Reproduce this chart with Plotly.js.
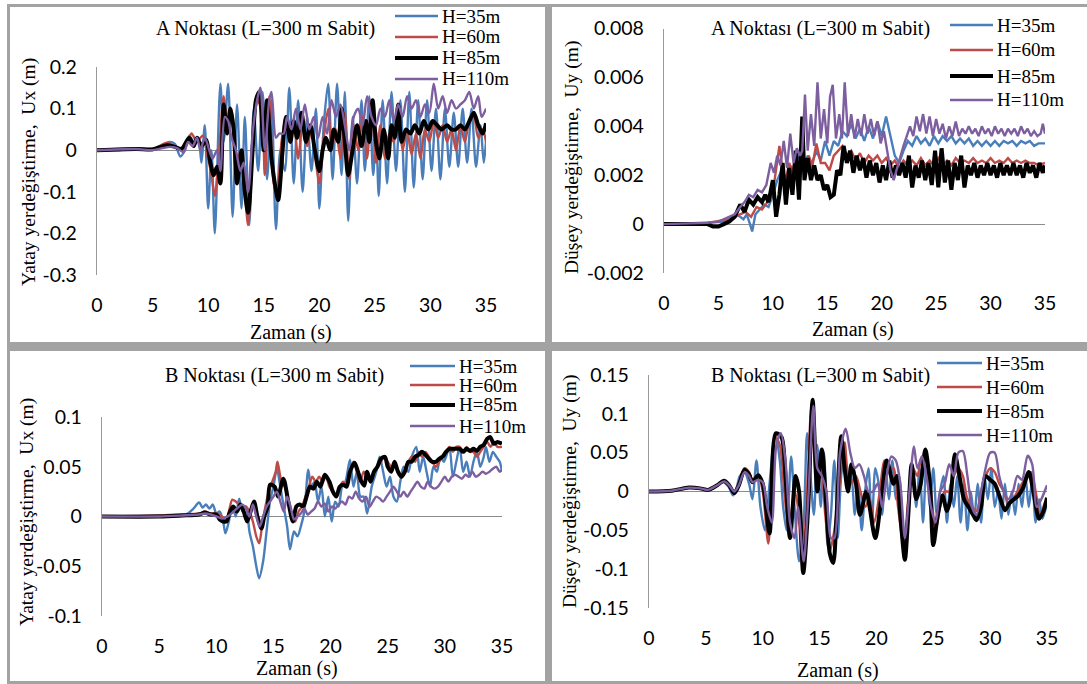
<!DOCTYPE html>
<html>
<head>
<meta charset="utf-8">
<script src="https://cdn.plot.ly/plotly-3.0.1.min.js"></script>
<style>html,body{margin:0;padding:0;background:#fff;}#chart{width:1087px;height:684px;}</style>
</head>
<body>
<div id="chart"></div>
<script>
// ---------------- DATA ----------------
const seriesNames = ["H=35m", "H=60m", "H=85m", "H=110m"];
const xTickVals = [0, 5, 10, 15, 20, 25, 30, 35];
const xTickText = ["0", "5", "10", "15", "20", "25", "30", "35"];

// Panel 1: A point, horizontal Ux
const yTicks1 = [0.2, 0.1, 0, -0.1, -0.2, -0.3];
const yTickText1 = ["0.2", "0.1", "0", "-0.1", "-0.2", "-0.3"];
const t1_35 = [0,2,3.5,4.5,5.5,6.1,6.5,7.0,7.5,7.9,8.3,8.7,9.1,9.4,9.7,10.0,10.3,10.6,11.1,11.4,11.8,12.2,12.6,13.0,13.3,13.7,14.1,14.5,14.9,15.3,15.7,16.1,16.5,16.9,17.3,17.7,18.1,18.5,18.9,19.3,19.7,20.0,20.4,20.8,21.2,21.6,22.0,22.3,22.6,23.0,23.4,23.8,24.1,24.5,24.85,25.1,25.35,25.7,26.1,26.5,26.9,27.3,27.7,28.1,28.5,28.9,29.3,29.7,30.1,30.5,30.9,31.3,31.7,32.1,32.5,32.9,33.3,33.7,34.1,34.5,34.8,35.0];
const v1_35 = [0,0,0.005,0.003,0.005,0.015,0.02,0.015,-0.015,0,0.035,0.02,0.03,-0.03,0.06,-0.14,0,-0.2,0.16,0.02,0.16,-0.16,0.11,-0.14,0.08,-0.18,0.10,-0.05,0.14,-0.07,0.12,-0.19,0.0,-0.05,0.15,-0.08,0.12,-0.1,0.08,-0.05,0.1,-0.14,0.06,0.16,-0.07,0.16,-0.06,0.14,-0.17,0.08,-0.08,0.12,-0.05,0.13,-0.06,0.05,-0.11,0.12,-0.08,0.14,-0.05,0.12,-0.1,0.14,-0.09,0.12,-0.07,0.12,-0.05,0.1,-0.07,0.1,-0.04,0.09,-0.04,0.1,-0.03,0.1,-0.04,0.06,-0.03,0.02];
const t1_60 = [0,3.5,5,6.3,6.8,7.5,8.0,8.5,9.0,9.5,10.0,10.3,10.6,11.0,11.4,11.8,12.1,12.5,12.9,13.3,13.6,14.0,14.4,14.8,15.1,15.5,15.9,16.2,16.6,17.0,17.3,17.7,18.1,18.5,18.9,19.3,19.7,20.0,20.4,20.8,21.1,21.5,21.9,22.3,22.7,23.1,23.5,23.9,24.3,24.7,25.1,25.5,25.9,26.3,26.7,27.1,27.5,27.9,28.3,28.7,29.1,29.5,29.9,30.3,30.7,31.1,31.5,31.9,32.3,32.7,33.1,33.5,33.9,34.3,34.7,35];
const v1_60 = [0,0.004,0.002,0.018,0.012,0.005,0.01,0.04,0.02,0.035,-0.02,-0.06,-0.11,0.0,0.13,0.05,0.1,-0.05,0.0,-0.1,-0.18,0.0,0.12,0.1,-0.06,0.13,-0.08,-0.1,0.02,0.08,0.02,0.07,-0.02,0.06,0.01,0.05,-0.03,-0.08,0.03,0.1,0.0,0.05,-0.02,0.09,-0.07,0.06,0.0,0.08,-0.02,0.12,-0.03,0.06,-0.02,0.04,0.02,0.08,0.0,0.05,-0.01,0.04,-0.02,0.05,0.02,0.07,0.03,0.06,0.02,0.05,0.0,0.06,0.02,0.07,0.08,0.03,0.05,0.02];
const t1_85 = [0,3.5,5,6.3,7,7.6,8.3,8.7,9.0,9.4,9.8,10.2,10.5,10.8,11.1,11.4,11.7,12.0,12.3,12.6,13.0,13.3,13.6,14.0,14.3,14.6,15.0,15.3,15.7,16.0,16.3,16.7,17.0,17.4,17.7,18.0,18.4,18.8,19.2,19.6,20.0,20.3,20.6,21.0,21.3,21.7,22.0,22.3,22.6,23.0,23.4,23.8,24.2,24.5,24.8,25.1,25.4,25.8,26.2,26.5,26.8,27.1,27.4,27.8,28.2,28.6,29.0,29.4,29.8,30.2,30.6,31.0,31.5,31.9,32.3,32.7,33.1,33.5,33.9,34.3,34.7,35.0];
const v1_85 = [0,0.003,0.002,0.012,0.008,0.003,0.03,0.01,0.03,0.01,0.025,-0.03,-0.06,-0.04,-0.08,0.11,0.04,0.1,0.05,-0.08,0.0,-0.1,-0.15,0.0,0.12,0.14,0.0,0.12,-0.02,-0.08,-0.12,0.0,0.08,0.02,0.07,0.03,0.09,0.02,0.06,0.0,-0.05,0.0,0.03,0.0,0.05,0.02,0.1,0.02,-0.06,0.0,0.06,0.01,0.07,0.02,0.12,0.02,-0.02,0.05,-0.02,0.06,0.03,0.11,0.02,0.05,0.04,0.06,0.04,0.07,0.05,0.07,0.06,0.05,0.06,0.05,0.05,0.06,0.05,0.07,0.09,0.06,0.04,0.065];
const t1_110 = [0,3.5,5,6.5,7.2,7.8,8.2,8.6,9.0,9.3,9.7,10.1,10.4,10.8,11.1,11.5,11.8,12.1,12.5,12.9,13.2,13.6,14.0,14.4,14.7,15.1,15.5,15.7,16.1,16.4,16.8,17.1,17.5,17.9,18.3,18.7,19.1,19.5,19.9,20.3,20.7,21.1,21.5,21.9,22.3,22.7,23.1,23.5,23.9,24.3,24.7,25.1,25.5,25.9,26.3,26.7,27.1,27.5,27.9,28.3,28.7,29.1,29.5,29.9,30.3,30.7,31.1,31.5,31.9,32.3,32.7,33.1,33.5,33.9,34.3,34.6,35];
const v1_110 = [0,0.003,0.0,0.008,0.005,-0.005,0.02,0.01,0.03,0.0,0.03,0.0,-0.02,0.0,-0.05,0.08,0.07,0.03,0.0,-0.05,-0.03,-0.1,0.04,0.12,0.15,0.0,0.12,0.14,0.03,0.04,0.04,0.08,0.05,0.1,0.05,0.11,0.05,0.08,0.03,0.08,0.04,0.12,0.08,0.11,0.06,0.0,0.08,0.1,0.06,0.13,0.08,0.06,0.1,0.08,0.12,0.07,0.11,0.08,0.13,0.1,0.12,0.08,0.11,0.09,0.16,0.1,0.13,0.09,0.12,0.1,0.11,0.12,0.14,0.1,0.13,0.08,0.1];

// Panel 2: A point, vertical Uy
const yTicks2 = [0.008, 0.006, 0.004, 0.002, 0, -0.002];
const yTickText2 = ["0.008", "0.006", "0.004", "0.002", "0", "-0.002"];
const t2_35 = [0,3,5,5.5,6,6.5,7,7.3,7.6,7.9,8.1,8.4,8.8,9.2,9.6,10,10.4,10.8,11.2,11.6,12.0,12.4,12.8,13.2,13.6,14.0,14.4,14.8,15.2,15.6,16.0,16.4,16.8,17.2,17.6,18.0,18.4,18.8,19.2,19.6,20.0,20.4,20.8,21.2,21.6,22.0,22.4,22.8,23.2,23.6,24.0,24.4,24.8,25.2,25.6,26.0,26.4,26.8,27.2,27.6,28.0,28.4,28.8,29.2,29.6,30.0,30.4,30.8,31.2,31.6,32.0,32.4,32.8,33.2,33.6,34.0,34.4,35.0];
const v2_35 = [0,0.00003,0.00008,0.0001,0.0002,0.0004,0.0003,0.0002,0.0004,0.0,-0.0003,0.0004,0.0006,0.0008,0.0007,0.0012,0.0018,0.0022,0.0018,0.0024,0.002,0.003,0.0022,0.0028,0.0025,0.003,0.0026,0.0034,0.0028,0.0034,0.0032,0.0038,0.0036,0.0041,0.0035,0.0039,0.0034,0.004,0.0035,0.0042,0.0036,0.0044,0.0036,0.0028,0.0025,0.003,0.0034,0.0032,0.0036,0.0033,0.0035,0.0032,0.0036,0.0033,0.0036,0.0034,0.0036,0.0033,0.0035,0.0033,0.0035,0.0032,0.0034,0.0032,0.0034,0.0032,0.0034,0.0032,0.0034,0.0033,0.0034,0.0032,0.0034,0.0033,0.0034,0.0032,0.0033,0.0033];
const t2_60 = [0,4,6,6.5,7,7.5,8,8.5,9,9.5,10,10.3,10.6,10.9,11.2,11.5,11.8,12.1,12.4,12.7,13.0,13.3,13.6,14.0,14.4,14.8,15.2,15.6,16.0,16.4,16.8,17.2,17.6,18,18.4,18.8,19.2,19.6,20,20.4,20.8,21.2,21.6,22,22.4,22.8,23.2,23.6,24,24.4,24.8,25.2,25.6,26,26.4,26.8,27.2,27.6,28,28.4,28.8,29.2,29.6,30,30.4,30.8,31.2,31.6,32,32.4,32.8,33.2,33.6,34,34.4,35];
const v2_60 = [0,0.00005,0.0002,0.0003,0.0004,0.0005,0.0003,0.0007,0.0006,0.0009,0.0013,0.0022,0.0032,0.0022,0.0018,0.0025,0.0021,0.0028,0.0022,0.0026,0.0024,0.0028,0.0023,0.0033,0.0025,0.0025,0.0022,0.0028,0.003,0.0032,0.0028,0.003,0.0026,0.0029,0.0025,0.0028,0.0026,0.0028,0.0025,0.0027,0.0024,0.0026,0.0023,0.0026,0.0024,0.0026,0.0024,0.0027,0.0024,0.0026,0.0024,0.0027,0.0024,0.0026,0.0024,0.0027,0.0025,0.0026,0.0025,0.0027,0.0025,0.0026,0.0025,0.0027,0.0025,0.0026,0.0025,0.0027,0.0025,0.0026,0.0025,0.0026,0.0025,0.0025,0.0024,0.0025];
const t2_85 = [0,4,4.5,5,5.5,6,6.5,7.0,7.4,7.8,8.2,8.6,9.0,9.3,9.6,10.0,10.3,10.6,10.9,11.2,11.5,11.8,12.1,12.4,12.7,12.9,13.2,13.5,13.8,14.1,14.4,14.7,15.0,15.3,15.6,15.9,16.2,16.5,16.8,17.1,17.4,17.7,18.0,18.3,18.6,18.9,19.2,19.5,19.8,20.1,20.4,20.7,21.0,21.3,21.6,21.9,22.2,22.5,22.8,23.1,23.4,23.7,24.0,24.3,24.6,24.9,25.2,25.5,25.8,26.1,26.4,26.7,27.0,27.3,27.6,27.9,28.2,28.5,28.8,29.1,29.4,29.7,30.0,30.3,30.6,30.9,31.2,31.5,31.8,32.1,32.4,32.7,33.0,33.3,33.6,33.9,34.2,34.5,34.8,35.0];
const v2_85 = [0,0,-0.0001,-0.0001,0.0,0.0001,0.0003,0.0008,0.0005,0.001,0.0008,0.0011,0.0009,0.0012,0.0009,0.0018,0.0003,0.0012,0.0025,0.0008,0.0023,0.0012,0.003,0.001,0.0044,0.0018,0.0027,0.0018,0.0024,0.0018,0.002,0.0014,0.0016,0.0011,0.0012,0.0022,0.002,0.0032,0.0025,0.003,0.0021,0.0028,0.0022,0.0027,0.0019,0.0026,0.002,0.0025,0.0017,0.0024,0.0018,0.0026,0.0019,0.0024,0.002,0.0025,0.0019,0.0028,0.0015,0.0024,0.0019,0.0026,0.0018,0.0025,0.0016,0.003,0.0015,0.0031,0.0017,0.0026,0.0014,0.0025,0.0018,0.0028,0.0015,0.0024,0.002,0.0025,0.0019,0.0024,0.002,0.0025,0.002,0.0024,0.0019,0.0025,0.002,0.0024,0.002,0.0025,0.002,0.0024,0.0019,0.0025,0.0021,0.0024,0.0019,0.0025,0.0021,0.0024];
const t2_110 = [0,4,5,5.5,6.0,6.5,7.0,7.4,7.8,8.2,8.6,9.0,9.4,9.8,10.1,10.4,10.7,11.0,11.3,11.6,11.9,12.2,12.5,12.7,12.95,13.2,13.5,13.8,14.1,14.4,14.7,15.0,15.25,15.5,15.8,16.1,16.35,16.6,16.9,17.2,17.5,17.8,18.1,18.4,18.7,19.0,19.3,19.6,19.9,20.2,20.5,20.8,21.1,21.4,21.7,22.0,22.3,22.6,22.9,23.2,23.5,23.8,24.1,24.4,24.7,25.0,25.3,25.6,25.9,26.2,26.5,26.8,27.1,27.4,27.7,28.0,28.3,28.6,28.9,29.2,29.5,29.8,30.1,30.4,30.7,31.0,31.3,31.6,31.9,32.2,32.5,32.8,33.1,33.4,33.7,34.0,34.3,34.6,34.8,35.0];
const v2_110 = [0,0.00005,0.0001,0.0002,0.0003,0.0004,0.0007,0.0009,0.0012,0.0011,0.0014,0.0013,0.0016,0.0025,0.0021,0.0028,0.0024,0.0034,0.0023,0.0037,0.0025,0.0031,0.0028,0.003,0.0053,0.003,0.0045,0.0032,0.0058,0.0035,0.0047,0.0033,0.0052,0.0057,0.0035,0.0045,0.0035,0.0058,0.0036,0.0045,0.0035,0.0043,0.0036,0.0045,0.0037,0.0043,0.0036,0.0042,0.0033,0.0038,0.003,0.0022,0.0018,0.0023,0.0028,0.0032,0.0036,0.004,0.0036,0.0044,0.0038,0.0045,0.0037,0.0044,0.0036,0.0043,0.0037,0.0041,0.0035,0.004,0.0036,0.0042,0.0036,0.0039,0.0037,0.004,0.0037,0.0039,0.0036,0.004,0.0037,0.0039,0.0036,0.004,0.0037,0.0039,0.0036,0.0039,0.0037,0.0039,0.0036,0.004,0.0037,0.0039,0.0036,0.0038,0.0036,0.0037,0.0041,0.0037];

// Panel 3: B point, horizontal Ux
const yTicks3 = [0.1, 0.05, 0, -0.05, -0.1];
const yTickText3 = ["0.1", "0.05", "0", "-0.05", "-0.1"];
const t3_35 = [0,5,7,7.5,8.0,8.5,8.8,9.1,9.4,9.7,10.0,10.3,10.6,10.8,11.1,11.4,11.7,12.0,12.3,12.6,12.9,13.2,13.5,13.75,14.1,14.4,14.7,15.0,15.3,15.6,15.9,16.2,16.45,16.8,17.1,17.4,17.7,18.05,18.3,18.6,18.9,19.2,19.5,19.8,20.1,20.4,20.7,21.0,21.3,21.7,22.0,22.3,22.6,22.9,23.2,23.6,24.0,24.3,24.6,24.9,25.2,25.5,25.8,26.1,26.4,26.8,27.1,27.5,27.8,28.1,28.4,28.7,29.0,29.3,29.6,29.9,30.1,30.4,30.7,31.0,31.3,31.6,31.9,32.2,32.5,32.8,33.1,33.4,33.6,33.9,34.2,34.5,34.8,35];
const v3_35 = [0,0.001,0.002,0.003,0.008,0.014,0.009,0.012,0.008,0.012,0.003,0.005,-0.005,-0.017,-0.005,0.01,0.0,0.018,0.005,0.01,-0.015,-0.03,-0.05,-0.062,-0.045,-0.015,0.015,0.03,0.048,0.03,0.01,-0.01,-0.033,-0.015,-0.02,-0.01,0.005,0.047,0.03,0.035,0.015,0.03,0.0,0.02,-0.005,0.015,0.01,0.03,0.035,0.057,0.03,0.045,0.02,0.02,0.003,0.03,0.045,0.06,0.045,0.03,0.04,0.02,0.015,0.035,0.05,0.045,0.06,0.07,0.045,0.06,0.045,0.03,0.05,0.045,0.06,0.055,0.06,0.07,0.04,0.055,0.07,0.045,0.055,0.04,0.055,0.065,0.05,0.06,0.07,0.055,0.065,0.06,0.055,0.045];
const t3_60 = [0,5,7,8.5,9,9.5,10,10.5,10.8,11.1,11.4,11.7,12.0,12.3,12.6,12.9,13.2,13.5,13.75,14.0,14.3,14.6,14.9,15.2,15.35,15.7,16.0,16.3,16.6,16.9,17.2,17.5,17.8,18.1,18.4,18.7,19.0,19.3,19.6,19.9,20.2,20.5,20.8,21.1,21.4,21.7,22.0,22.3,22.6,22.9,23.2,23.5,23.8,24.1,24.4,24.7,25.0,25.3,25.6,25.9,26.2,26.5,26.8,27.1,27.4,27.7,28.0,28.3,28.6,28.9,29.2,29.5,29.8,30.1,30.4,30.7,31.0,31.3,31.6,31.9,32.2,32.5,32.8,33.1,33.4,33.7,34.0,34.3,34.6,35];
const v3_60 = [0,0.001,0.002,0.003,0.005,0.003,0.003,0.0,-0.005,0.005,0.017,0.015,0.012,0.01,0.01,0.005,-0.005,-0.02,-0.027,-0.01,0.01,0.025,0.035,0.045,0.055,0.035,0.03,0.015,0.0,-0.005,0.005,0.01,0.02,0.03,0.04,0.035,0.04,0.035,0.04,0.03,0.025,0.02,0.03,0.035,0.03,0.045,0.055,0.045,0.035,0.045,0.04,0.035,0.045,0.05,0.055,0.06,0.055,0.05,0.05,0.045,0.04,0.045,0.055,0.06,0.055,0.065,0.06,0.065,0.06,0.055,0.05,0.055,0.06,0.065,0.07,0.065,0.07,0.07,0.065,0.07,0.065,0.065,0.06,0.065,0.07,0.075,0.07,0.075,0.07,0.07];
const t3_85 = [0,5,7,8.5,9,9.5,10,10.3,10.6,10.9,11.2,11.5,11.8,12.1,12.4,12.7,13.0,13.3,13.6,13.95,14.2,14.5,14.7,15.1,15.4,15.87,16.3,16.7,17.0,17.3,17.6,17.9,18.2,18.5,18.8,19.1,19.5,19.9,20.2,20.5,20.8,21.1,21.4,21.7,22.1,22.4,22.7,22.95,23.2,23.5,23.8,24.1,24.4,24.75,25.0,25.3,25.6,25.9,26.2,26.5,26.8,27.1,27.4,27.7,28.0,28.3,28.6,28.9,29.2,29.5,29.8,30.1,30.4,30.7,31.0,31.3,31.6,31.9,32.2,32.5,32.8,33.1,33.4,33.7,33.95,34.3,34.6,35];
const v3_85 = [0,0.0,0.001,0.002,0.004,0.002,0.002,-0.003,-0.005,-0.005,0.005,0.01,0.005,0.012,0.005,-0.005,0.005,0.015,0.0,-0.012,0.0,0.01,0.032,0.03,0.02,0.038,0.015,-0.005,0.01,0.012,0.01,0.02,0.03,0.028,0.035,0.03,0.042,0.035,0.025,0.02,0.03,0.032,0.03,0.045,0.054,0.045,0.035,0.031,0.045,0.035,0.045,0.05,0.058,0.06,0.05,0.045,0.055,0.045,0.04,0.045,0.055,0.055,0.06,0.062,0.065,0.062,0.058,0.055,0.055,0.058,0.06,0.065,0.068,0.068,0.068,0.068,0.065,0.068,0.066,0.068,0.066,0.07,0.072,0.078,0.08,0.073,0.075,0.073];
const t3_110 = [0,5,7,8.5,9,9.5,10,10.5,11,11.5,12,12.3,12.6,12.9,13.2,13.5,13.8,14.1,14.4,14.7,15.0,15.3,15.6,15.9,16.2,16.5,16.8,17.1,17.4,17.7,18.0,18.3,18.6,18.9,19.2,19.5,19.8,20.1,20.4,20.7,21.0,21.3,21.6,21.9,22.2,22.5,22.8,23.1,23.4,23.7,24.0,24.3,24.6,24.9,25.2,25.5,25.8,26.1,26.4,26.7,27.0,27.3,27.6,27.9,28.2,28.5,28.8,29.1,29.4,29.7,30.0,30.3,30.6,30.9,31.2,31.5,31.8,32.1,32.4,32.7,33.0,33.3,33.6,33.9,34.2,34.5,34.8,35];
const v3_110 = [0,0.0,0.001,0.002,0.003,0.002,0.0,-0.002,0.0,0.005,0.01,0.012,0.008,0.0,0.012,0.0,-0.01,0.0,0.01,0.015,0.02,0.025,0.015,0.005,0.02,0.01,-0.003,0.0,0.003,0.008,0.002,0.005,0.008,0.015,0.01,0.013,0.005,0.01,0.008,0.012,0.015,0.012,0.02,0.018,0.025,0.018,0.015,0.02,0.01,0.015,0.02,0.018,0.015,0.02,0.025,0.03,0.025,0.02,0.025,0.02,0.025,0.03,0.035,0.03,0.028,0.035,0.03,0.028,0.03,0.035,0.04,0.035,0.04,0.042,0.04,0.038,0.042,0.04,0.045,0.04,0.042,0.045,0.043,0.045,0.048,0.05,0.045,0.047];

// Panel 4: B point, vertical Uy
const yTicks4 = [0.15, 0.1, 0.05, 0, -0.05, -0.1, -0.15];
const yTickText4 = ["0.15", "0.1", "0.05", "0", "-0.05", "-0.1", "-0.15"];
const t4_35 = [0,2,3.5,4.5,5.5,6.0,6.5,7.0,7.4,7.7,8.0,8.4,8.8,9.1,9.45,9.8,10.2,10.6,11.1,11.5,11.8,12.1,12.5,12.8,13.2,13.6,13.9,14.2,14.5,14.8,15.1,15.4,15.7,16.0,16.3,16.6,16.9,17.2,17.5,17.8,18.1,18.4,18.7,19.0,19.3,19.6,19.9,20.2,20.5,20.8,21.1,21.4,21.7,22.0,22.3,22.6,22.9,23.2,23.5,23.8,24.1,24.4,24.7,25.0,25.3,25.6,25.9,26.2,26.5,26.8,27.1,27.4,27.7,28.0,28.3,28.6,28.9,29.2,29.5,29.8,30.1,30.4,30.7,31.0,31.3,31.6,31.9,32.2,32.5,32.8,33.1,33.4,33.7,34.0,34.3,34.6,35.0];
const v4_35 = [0,0.001,0.005,0.004,0.003,0.008,0.012,0.006,-0.005,0.005,0.02,0.025,0.01,-0.01,0.04,-0.02,-0.05,0.01,0.075,0.04,-0.02,-0.05,0.045,-0.02,-0.09,-0.04,0.075,0.02,-0.03,0.06,-0.02,0.05,-0.07,-0.03,0.04,-0.06,0.02,0.05,0.0,0.02,-0.03,0.01,-0.05,0.0,0.03,-0.045,0.03,0.01,-0.03,0.03,-0.01,0.04,-0.01,0.02,-0.04,-0.07,0.0,0.03,-0.02,0.03,-0.04,0.04,-0.02,0.03,-0.03,0.0,0.02,-0.04,0.01,-0.02,0.02,-0.04,0.01,-0.05,0.0,-0.035,0.01,-0.04,0.02,-0.01,0.03,-0.02,0.0,-0.035,0.01,-0.03,0.0,-0.03,0.01,-0.02,0.02,-0.02,0.015,-0.04,-0.01,-0.035,-0.015];
const t4_60 = [0,2,3.5,4.5,5.2,6.0,6.6,7.0,7.5,7.9,8.4,8.8,9.1,9.6,10.0,10.5,11.1,11.5,11.9,12.3,12.8,13.1,13.5,13.9,14.3,14.7,15.1,15.5,15.9,16.3,16.7,17.2,17.5,17.8,18.2,18.6,19.0,19.4,19.8,20.3,20.7,21.1,21.5,21.9,22.4,22.8,23.2,23.6,24.0,24.4,24.8,25.2,25.6,26.0,26.4,26.8,27.2,27.6,28.0,28.4,28.8,29.2,29.6,30.0,30.4,30.8,31.2,31.6,32.0,32.4,32.8,33.2,33.6,34.0,34.4,34.8,35.0];
const v4_60 = [0,0.001,0.005,0.004,0.002,0.008,0.013,0.009,0.0,0.01,0.03,0.025,0.015,0.02,0.0,-0.067,0.07,0.06,0.0,-0.05,0.0,-0.02,-0.1,0.0,0.112,0.02,0.04,-0.03,-0.077,-0.05,0.0,0.063,0.02,0.01,0.02,0.0,-0.02,-0.01,-0.04,0.0,0.04,0.03,0.03,-0.02,-0.07,-0.01,0.03,0.02,0.045,0.04,0.0,-0.05,-0.02,0.0,0.0,0.02,0.03,0.02,-0.01,-0.02,-0.025,0.0,0.02,0.03,0.025,0.01,0.0,-0.015,-0.01,0.0,0.01,0.02,0.025,0.0,-0.03,-0.015,-0.01];
const t4_85 = [0,2,3.5,4.5,5.2,6.0,6.6,7.0,7.5,7.9,8.4,8.8,9.1,9.6,10.0,10.6,11.15,11.65,12.0,12.4,12.9,13.2,13.56,14.0,14.39,14.8,15.2,15.6,15.9,16.2,16.5,16.9,17.2,17.5,17.8,18.2,18.55,19.1,19.4,19.9,20.5,20.9,21.5,21.8,22.1,22.5,22.8,23.1,23.5,23.9,24.3,24.7,25.0,25.4,25.8,26.2,26.5,26.9,27.3,27.7,28.1,28.5,28.8,29.2,29.6,30.0,30.4,30.8,31.3,31.7,32.1,32.5,32.9,33.4,33.8,34.3,34.7,35.0];
const v4_85 = [0,0.001,0.005,0.004,0.002,0.008,0.014,0.009,-0.002,0.008,0.028,0.022,0.012,0.021,0.01,-0.054,0.075,0.07,0.02,-0.06,0.02,0.0,-0.105,-0.02,0.118,0.0,0.054,-0.02,-0.08,-0.092,-0.03,0.071,0.03,0.0,0.035,0.01,-0.03,0.0,-0.02,-0.06,0.0,0.04,0.01,0.02,-0.03,-0.088,-0.03,0.035,-0.01,0.01,0.054,0.01,-0.069,-0.03,-0.005,-0.025,-0.01,0.048,0.02,-0.01,-0.02,-0.03,-0.037,-0.02,0.02,0.015,0.01,-0.005,-0.024,-0.015,-0.01,-0.005,0.005,0.025,0.0,-0.035,-0.025,-0.008];
const t4_110 = [0,2,3.5,4.5,5.2,6.0,6.6,7.0,7.5,7.9,8.4,8.8,9.1,9.6,10.0,10.4,10.8,11.2,11.6,12.0,12.4,12.8,13.1,13.6,14.0,14.45,14.8,15.2,15.6,16.0,16.3,16.8,17.3,17.7,18.1,18.5,18.9,19.3,19.7,20.1,20.5,20.9,21.3,21.7,22.1,22.5,22.9,23.3,23.6,24.0,24.4,24.8,25.2,25.6,26.0,26.4,26.8,27.2,27.6,28.0,28.4,28.8,29.2,29.6,30.0,30.4,30.8,31.2,31.6,32.0,32.4,32.8,33.3,33.7,34.1,34.5,35.0];
const v4_110 = [0,0.001,0.005,0.004,0.002,0.008,0.013,0.009,0.0,0.008,0.025,0.02,0.012,0.015,0.012,-0.02,-0.04,0.06,0.075,0.04,-0.04,-0.06,-0.02,-0.09,-0.01,0.11,0.03,0.02,0.0,-0.06,-0.06,0.05,0.081,0.05,0.03,0.035,0.02,0.0,0.0,0.01,-0.02,0.02,0.045,0.04,0.01,-0.06,0.0,0.058,0.03,0.045,0.02,-0.02,-0.04,0.0,0.01,0.035,0.02,0.05,0.052,0.02,-0.02,-0.03,0.0,0.03,0.05,0.05,0.02,0.0,-0.01,0.0,0.02,0.015,0.046,0.035,-0.02,-0.01,0.008];

// ---------------- STYLE / LAYOUT ----------------
const W = 1087, H = 684;
const px = x => x / W;
const py = y => 1 - y / H;
const colors = ["#4a7ebb", "#be4b48", "#000000", "#7d5fa0"];
const widths = [2.4, 2.4, 4, 2.4];
const serif = '"Liberation Serif", "Times New Roman", serif';
const sans = 'Lato, "Liberation Sans", sans-serif';

const panels = [
  {t: [t1_35, t1_60, t1_85, t1_110], v: [v1_35, v1_60, v1_85, v1_110], shape: "spline",
   xd: [97, 486], yd: [275, 67], range: [-0.3, 0.2], yt: yTicks1, ytt: yTickText1,
   title: "A Noktası (L=300 m Sabit)", tpos: [265, 29],
   ytitle: "Yatay yerdeğiştirme,\u00a0 Ux (m)", ytpos: [29, 172], xtpos: [291, 332],
   leg: {x0: 395, x1: 438, tx: 440, rows: [16, 37, 58, 79]}},
  {t: [t2_35, t2_60, t2_85, t2_110], v: [v2_35, v2_60, v2_85, v2_110], shape: "linear",
   xd: [664, 1045], yd: [273, 28.5], range: [-0.002, 0.008], yt: yTicks2, ytt: yTickText2,
   title: "A Noktası (L=300 m Sabit)", tpos: [820, 29],
   ytitle: "Düşey yerdeğiştirme,\u00a0 Uy (m)", ytpos: [572, 158], xtpos: [853, 330],
   leg: {x0: 950, x1: 993, tx: 995, rows: [25, 50, 76, 100]}},
  {t: [t3_35, t3_60, t3_85, t3_110], v: [v3_35, v3_60, v3_85, v3_110], shape: "spline",
   xd: [102, 502], yd: [616, 417], range: [-0.1, 0.1], yt: yTicks3, ytt: yTickText3,
   title: "B Noktası (L=300 m Sabit)", tpos: [274, 375],
   ytitle: "Yatay yerdeğiştirme,\u00a0 Ux (m)", ytpos: [27, 512], xtpos: [297, 668],
   leg: {x0: 410, x1: 455, tx: 457, rows: [366, 385, 405, 426]}},
  {t: [t4_35, t4_60, t4_85, t4_110], v: [v4_35, v4_60, v4_85, v4_110], shape: "spline",
   xd: [649, 1047], yd: [608, 375], range: [-0.15, 0.15], yt: yTicks4, ytt: yTickText4,
   title: "B Noktası (L=300 m Sabit)", tpos: [820, 375],
   ytitle: "Düşey yerdeğiştirme,\u00a0 Uy (m)", ytpos: [570, 492], xtpos: [838, 670],
   leg: {x0: 937, x1: 982, tx: 984, rows: [363, 387, 411, 435]}}
];

const data = [];
const layout = {
  width: W, height: H,
  margin: {l: 0, r: 0, t: 0, b: 0, pad: 0},
  paper_bgcolor: "#ffffff", plot_bgcolor: "rgba(0,0,0,0)",
  showlegend: false,
  annotations: [], shapes: []
};

// panel frames
const frameColor = "#a3a3a3";
const rect = (x0, y0, x1, y1) => ({type: "rect", xref: "paper", yref: "paper",
  x0: px(x0), x1: px(x1), y0: py(y1), y1: py(y0), fillcolor: frameColor, line: {width: 0}, layer: "below"});
layout.shapes.push(
  rect(7, 4, 1087, 7),
  rect(7, 4, 10, 684),
  rect(7, 681, 1087, 684),
  rect(545, 4, 552, 684),
  rect(7, 342, 1087, 351)
);

panels.forEach((p, i) => {
  const n = i === 0 ? "" : String(i + 1);
  for (let s = 0; s < 4; s++) {
    const lw = widths[s];
    data.push({
      type: "scatter", mode: "lines",
      x: p.t[s], y: p.v[s], name: seriesNames[s],
      xaxis: "x" + n, yaxis: "y" + n, showlegend: false,
      line: {color: colors[s], width: lw, shape: p.shape, smoothing: 0.8},
      hoverinfo: "skip"
    });
    // legend entry: sample line + label
    const ry = p.leg.rows[s];
    layout.shapes.push({type: "line", xref: "paper", yref: "paper",
      x0: px(p.leg.x0), x1: px(p.leg.x1), y0: py(ry), y1: py(ry),
      line: {color: colors[s], width: lw}, layer: "above"});
    layout.annotations.push({text: seriesNames[s], x: px(p.leg.tx), y: py(ry),
      xref: "paper", yref: "paper", showarrow: false, xanchor: "left", yanchor: "middle",
      font: {family: serif, size: 19, color: "#000"}});
  }
  layout["xaxis" + n] = {
    domain: [px(p.xd[0]), px(p.xd[1])], range: [0, 35], anchor: "y" + n,
    tickvals: xTickVals, ticktext: xTickText, ticks: "", showgrid: false, zeroline: false,
    showline: false, ticklabelstandoff: 16, fixedrange: true,
    tickfont: {family: sans, size: 19.5, color: "#000"}
  };
  layout["yaxis" + n] = {
    domain: [py(p.yd[0]), py(p.yd[1])], range: p.range, anchor: "x" + n,
    tickvals: p.yt, ticktext: p.ytt, ticks: "", showgrid: false,
    zeroline: true, zerolinecolor: "#8c8c8c", zerolinewidth: 1,
    showline: true, linecolor: "#9a9a9a", linewidth: 1.2,
    ticklabelstandoff: 15, fixedrange: true,
    tickfont: {family: sans, size: 19.5, color: "#000"}
  };
  layout.annotations.push(
    {text: p.title, x: px(p.tpos[0]), y: py(p.tpos[1]), xref: "paper", yref: "paper",
     showarrow: false, xanchor: "center", yanchor: "middle",
     font: {family: serif, size: 20, color: "#000"}},
    {text: p.ytitle, x: px(p.ytpos[0]), y: py(p.ytpos[1]), xref: "paper", yref: "paper",
     showarrow: false, xanchor: "center", yanchor: "middle", textangle: -90,
     font: {family: serif, size: 19.5, color: "#000"}},
    {text: "Zaman (s)", x: px(p.xtpos[0]), y: py(p.xtpos[1]), xref: "paper", yref: "paper",
     showarrow: false, xanchor: "center", yanchor: "middle",
     font: {family: serif, size: 20, color: "#000"}}
  );
});

Plotly.newPlot("chart", data, layout, {displayModeBar: false, staticPlot: true});
</script>
</body>
</html>
